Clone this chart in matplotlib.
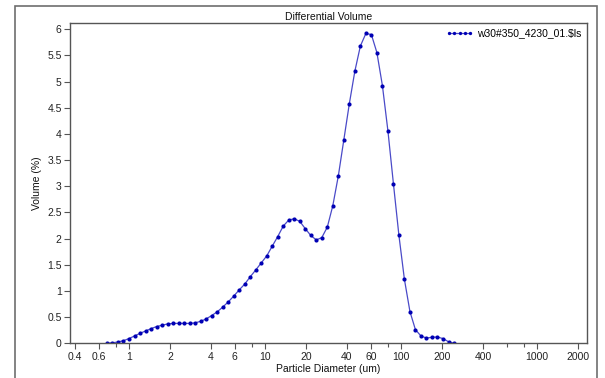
import matplotlib
matplotlib.use("Agg")
import matplotlib.pyplot as plt
from matplotlib.patches import Rectangle
from matplotlib.lines import Line2D

diameter_um = [0.688, 0.755, 0.829, 0.909, 0.998, 1.097, 1.204, 1.322, 1.451, 1.593,
               1.749, 1.919, 2.107, 2.313, 2.539, 2.787, 3.060, 3.359, 3.687, 4.047,
               4.443, 4.878, 5.355, 5.878, 6.453, 7.084, 7.776, 8.537, 9.371, 10.29,
               11.29, 12.40, 13.61, 14.94, 16.40, 18.00, 19.76, 21.70, 23.81, 26.14,
               28.70, 31.50, 34.59, 37.97, 41.68, 45.75, 50.23, 55.13, 60.52, 66.44,
               72.94, 80.07, 87.89, 96.49, 105.9, 116.3, 127.6, 140.1, 153.8, 168.9,
               185.3, 203.5, 223.4, 245.2]
volume_pct = [0.0, 0.01, 0.025, 0.05, 0.09, 0.14, 0.19, 0.235, 0.28, 0.32,
              0.345, 0.37, 0.38, 0.38, 0.38, 0.38, 0.39, 0.42, 0.465, 0.53,
              0.60, 0.69, 0.79, 0.90, 1.02, 1.13, 1.27, 1.40, 1.535, 1.67,
              1.855, 2.04, 2.24, 2.355, 2.38, 2.33, 2.19, 2.06, 1.975, 2.02,
              2.22, 2.63, 3.20, 3.89, 4.58, 5.20, 5.68, 5.92, 5.90, 5.555,
              4.925, 4.06, 3.05, 2.06, 1.22, 0.605, 0.26, 0.14, 0.10, 0.115,
              0.12, 0.09, 0.03, 0.0]

series_name = "w30#350_4230_01.$ls"
title = "Differential Volume"
x_major_ticks = [0.4, 0.6, 1, 2, 4, 6, 10, 20, 40, 60, 100, 200, 400, 1000, 2000]
x_major_labels = ["0.4", "0.6", "1", "2", "4", "6", "10", "20", "40", "60", "100", "200", "400", "1000", "2000"]
x_minor_ticks = [0.8, 8, 80, 600, 800]
y_ticks = [0, 0.5, 1, 1.5, 2, 2.5, 3, 3.5, 4, 4.5, 5, 5.5, 6]
y_labels = ["0", "0.5", "1", "1.5", "2", "2.5", "3", "3.5", "4", "4.5", "5", "5.5", "6"]

plt.rcParams['font.family'] = ['Liberation Sans', 'DejaVu Sans']
FS = 7.5
W, H = 605, 378
fig = plt.figure(figsize=(W / 100, H / 100), dpi=100)
fig.patch.set_facecolor("white")

# outer frame
fig.patches.append(Rectangle((15 / W, -0.05), (597 - 15) / W, 1.05 - 6 / H,
                             transform=fig.transFigure, fill=False,
                             edgecolor="#6e6e6e", linewidth=1.2))

ax = fig.add_axes([70 / W, 1 - 343.3 / H, (587 - 70) / W, (343.3 - 23) / H])
line_color = "#4a4ac8"
marker_color = "#0000b4"
ax.plot(diameter_um, volume_pct, color=line_color, linewidth=0.9,
        marker="o", markersize=3.0, markerfacecolor=marker_color,
        markeredgecolor=marker_color, markeredgewidth=0)

ax.set_xscale("log")
ax.set_xlim(0.368, 2330)
ax.set_ylim(0, 6.12)
ax.set_xticks(x_major_ticks)
ax.set_xticklabels(x_major_labels)
ax.set_xticks(x_minor_ticks, minor=True)
ax.set_xticklabels([], minor=True)
ax.set_yticks(y_ticks)
ax.set_yticklabels(y_labels)

for s in ax.spines.values():
    s.set_color("#555555")
    s.set_linewidth(1.0)
ax.tick_params(axis="both", which="major", direction="out", length=4.5, width=0.8,
               color="#555555", labelsize=FS, labelcolor="#222222", pad=1.5)
ax.tick_params(axis="x", which="minor", direction="out", length=3, width=0.8,
               color="#555555")

ax.set_title(title, fontsize=FS, pad=2.5, color="#111111")
ax.set_xlabel("Particle Diameter (um)", fontsize=FS, labelpad=2, color="#111111")
ax.set_ylabel("Volume (%)", fontsize=FS, labelpad=4, color="#111111")

handle = Line2D([], [], color=line_color, linewidth=0.9, marker="o", markersize=2.4,
                markerfacecolor=marker_color, markeredgecolor=marker_color,
                markeredgewidth=0)
ax.legend([handle], [series_name], loc="upper right", frameon=False, fontsize=FS,
          numpoints=5, handlelength=2.6, handletextpad=0.4,
          borderaxespad=0.2, borderpad=0.3)

fig.savefig("out.png", dpi=100)
